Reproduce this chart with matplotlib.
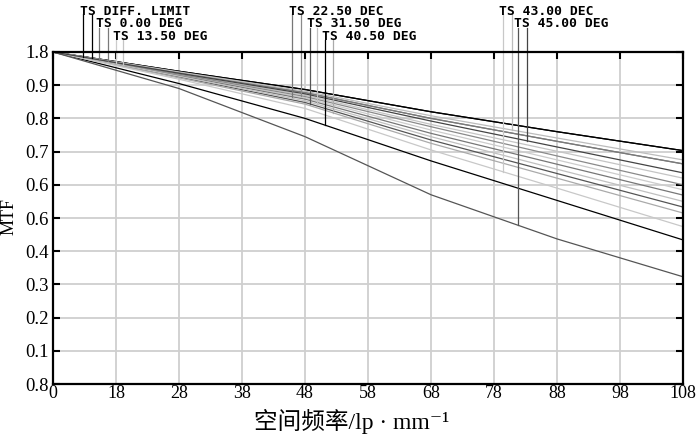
import matplotlib.pyplot as plt
import numpy as np

# spatial frequency (lp/mm) where values were read
freq = [0, 20, 40, 60, 80, 100]

# MTF curves, T = tangential, S = sagittal
diff_t = [1.00, 0.942, 0.887, 0.820, 0.760, 0.703]
diff_s = [1.00, 0.942, 0.887, 0.820, 0.760, 0.703]
f000_t = [1.00, 0.938, 0.878, 0.800, 0.731, 0.663]
f000_s = [1.00, 0.938, 0.878, 0.800, 0.731, 0.663]
f135_t = [1.00, 0.931, 0.862, 0.765, 0.675, 0.585]
f135_s = [1.00, 0.934, 0.870, 0.782, 0.701, 0.620]
f225_t = [1.00, 0.929, 0.858, 0.755, 0.662, 0.569]
f225_s = [1.00, 0.933, 0.866, 0.775, 0.687, 0.600]
f315_t = [1.00, 0.925, 0.848, 0.735, 0.634, 0.533]
f315_s = [1.00, 0.927, 0.853, 0.745, 0.647, 0.550]
f405_t = [1.00, 0.905, 0.800, 0.672, 0.553, 0.434]
f405_s = [1.00, 0.922, 0.843, 0.725, 0.620, 0.515]
f430_t = [1.00, 0.918, 0.830, 0.705, 0.590, 0.474]
f430_s = [1.00, 0.940, 0.882, 0.808, 0.741, 0.675]
f450_t = [1.00, 0.890, 0.745, 0.570, 0.437, 0.323]
f450_s = [1.00, 0.936, 0.874, 0.792, 0.714, 0.636]

labels = ['TS DIFF. LIMIT', 'TS 0.00 DEG', 'TS 13.50 DEG', 'TS 22.50 DEC',
          'TS 31.50 DEG', 'TS 40.50 DEG', 'TS 43.00 DEC', 'TS 45.00 DEG']
curves_t = [diff_t, f000_t, f135_t, f225_t, f315_t, f405_t, f430_t, f450_t]
curves_s = [diff_s, f000_s, f135_s, f225_s, f315_s, f405_s, f430_s, f450_s]
colors_t = ['#000000', '#7a7a7a', '#cccccc', '#777777', '#555555', '#000000', '#c8c8c8', '#555555']
colors_s = ['#000000', '#7a7a7a', '#c4c4c4', '#8a8a8a', '#c0c0c0', '#aaaaaa', '#bcbcbc', '#444444']

# where the leader lines of each label sit (lp/mm) and which text row
lead_t = [4.8, 7.3, 10.0, 38.0, 40.8, 43.2, 71.4, 73.8]
lead_s = [6.2, 8.7, 11.1, 39.4, 41.9, 44.4, 72.8, 75.2]
rows = [0, 1, 2, 0, 1, 2, 0, 1]

xticks = np.arange(0, 101, 10)
xlabels = ['0', '18', '28', '38', '48', '58', '68', '78', '88', '98', '108']
yticks = np.arange(0, 1.01, 0.1)
ylabels = ['0.8', '0.1', '0.2', '0.3', '0.4', '0.6', '0.6', '0.7', '0.8', '0.9', '1.8']

fig = plt.figure(figsize=(7, 4.36), dpi=100)
ax = fig.add_axes([53 / 700, 52 / 436, 630 / 700, 332 / 436])

for i in range(len(labels)):
    ax.plot(freq, curves_t[i], color=colors_t[i], lw=0.9)
    ax.plot(freq, curves_s[i], color=colors_s[i], lw=0.9)

# labels and leader lines above the plot
row_top = [1.143, 1.104, 1.065]
row_bot = [1.114, 1.073, 1.036]
for i in range(len(labels)):
    r = rows[i]
    ax.text(lead_t[i] - 0.55, row_top[r], labels[i], family='DejaVu Sans Mono',
            fontsize=9.4, fontweight='bold', va='top', ha='left', clip_on=False)
    yt = np.interp(lead_t[i], freq, curves_t[i])
    ys = np.interp(lead_s[i], freq, curves_s[i])
    ax.plot([lead_t[i], lead_t[i]], [row_bot[r], yt], color=colors_t[i], lw=0.9, clip_on=False)
    ax.plot([lead_s[i], lead_s[i]], [row_bot[r], ys], color=colors_s[i], lw=0.9, clip_on=False)

ax.set_xlim(0, 100)
ax.set_ylim(0, 1)
ax.set_xticks(xticks)
ax.set_xticklabels(xlabels, family='Liberation Serif', fontsize=13)
ax.set_yticks(yticks)
ax.set_yticklabels(ylabels, family='Liberation Serif', fontsize=13.5)
ax.grid(True, color='#cfcfcf', lw=1.3)
ax.set_axisbelow(True)
ax.tick_params(axis='both', direction='in', length=5, width=1.5, top=True, right=True, pad=3)
ax.tick_params(axis='x', which='both', bottom=False, pad=1)
for sp in ax.spines.values():
    sp.set_linewidth(1.6)

fig.text(9 / 700, 1 - 216 / 436, 'MTF', rotation=90, family='Liberation Serif',
         fontsize=13, ha='center', va='center')
fig.text(352 / 700, 1 - 421 / 436, '空间频率/lp · mm⁻¹',
         family=['Liberation Serif', 'Noto Sans CJK SC', 'DejaVu Serif'],
         fontsize=17, ha='center', va='center')

fig.savefig('out.png', dpi=100)
